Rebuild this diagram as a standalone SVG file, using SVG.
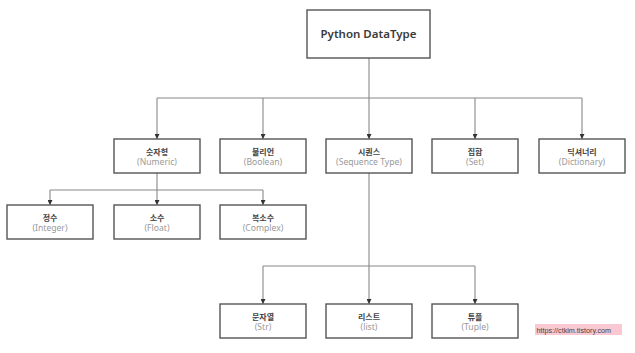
<svg xmlns="http://www.w3.org/2000/svg" width="635" height="353" viewBox="0 0 635 353">
<defs>
<style>
.box{fill:#fff;stroke:#555;stroke-width:1.4}
.ko{font-family:"Noto Sans CJK KR","Noto Sans",sans-serif;font-size:8px;font-weight:700;fill:#444;text-anchor:middle}
.en{font-family:"Noto Sans","Noto Sans CJK KR",sans-serif;font-size:8.6px;fill:#999;text-anchor:middle}
.title{font-family:"Noto Sans","Noto Sans CJK KR",sans-serif;font-size:11.5px;font-weight:600;fill:#3a3a3a;text-anchor:middle}
.conn{fill:none;stroke:#888;stroke-width:1.1}
.wm{font-family:"Liberation Sans",sans-serif;font-size:7.2px;fill:#444}
</style>
<marker id="arr" viewBox="0 0 6 6" refX="6" refY="3" markerWidth="5" markerHeight="5" orient="auto" markerUnits="userSpaceOnUse">
<path d="M0,0 L6,3 L0,6 z" fill="#333"/>
</marker>
</defs>
<rect width="635" height="353" fill="#fff"/>
<g id="connectors">
<path class="conn" d="M369,58 V98"/>
<path class="conn" d="M157,98 H582"/>
<path class="conn" d="M157,98 V139" marker-end="url(#arr)"/>
<path class="conn" d="M263,98 V139" marker-end="url(#arr)"/>
<path class="conn" d="M369,98 V139" marker-end="url(#arr)"/>
<path class="conn" d="M475,98 V139" marker-end="url(#arr)"/>
<path class="conn" d="M582,98 V139" marker-end="url(#arr)"/>
<path class="conn" d="M157,173 V205" marker-end="url(#arr)"/>
<path class="conn" d="M50,190 H263"/>
<path class="conn" d="M50,190 V205" marker-end="url(#arr)"/>
<path class="conn" d="M263,190 V205" marker-end="url(#arr)"/>
<path class="conn" d="M369,173 V304" marker-end="url(#arr)"/>
<path class="conn" d="M263,266 H475"/>
<path class="conn" d="M263,266 V304" marker-end="url(#arr)"/>
<path class="conn" d="M475,266 V304" marker-end="url(#arr)"/>
</g>
<g id="root">
<rect class="box" x="307" y="10" width="123" height="48"/>
<text class="title" x="368.5" y="38">Python DataType</text>
</g>
<g id="numeric">
<rect class="box" x="114" y="139" width="86" height="34"/>
<text class="ko" x="157" y="155">숫자형</text>
<text class="en" x="157" y="165">(Numeric)</text>
</g>
<g id="boolean">
<rect class="box" x="220" y="139" width="86" height="34"/>
<text class="ko" x="263" y="155">불리언</text>
<text class="en" x="263" y="165">(Boolean)</text>
</g>
<g id="sequence">
<rect class="box" x="326" y="139" width="86" height="34"/>
<text class="ko" x="369" y="155">시퀀스</text>
<text class="en" x="369" y="165">(Sequence Type)</text>
</g>
<g id="set">
<rect class="box" x="432" y="139" width="86" height="34"/>
<text class="ko" x="475" y="155">집합</text>
<text class="en" x="475" y="165">(Set)</text>
</g>
<g id="dictionary">
<rect class="box" x="539" y="139" width="86" height="34"/>
<text class="ko" x="582" y="155">딕셔너리</text>
<text class="en" x="582" y="165">(Dictionary)</text>
</g>
<g id="integer">
<rect class="box" x="7" y="205" width="86" height="34"/>
<text class="ko" x="50" y="221">정수</text>
<text class="en" x="50" y="231">(Integer)</text>
</g>
<g id="float">
<rect class="box" x="114" y="205" width="86" height="34"/>
<text class="ko" x="157" y="221">소수</text>
<text class="en" x="157" y="231">(Float)</text>
</g>
<g id="complex">
<rect class="box" x="220" y="205" width="86" height="34"/>
<text class="ko" x="263" y="221">복소수</text>
<text class="en" x="263" y="231">(Complex)</text>
</g>
<g id="str">
<rect class="box" x="220" y="304" width="86" height="34"/>
<text class="ko" x="263" y="320">문자열</text>
<text class="en" x="263" y="330">(Str)</text>
</g>
<g id="list">
<rect class="box" x="326" y="304" width="86" height="34"/>
<text class="ko" x="369" y="320">리스트</text>
<text class="en" x="369" y="330">(list)</text>
</g>
<g id="tuple">
<rect class="box" x="432" y="304" width="86" height="34"/>
<text class="ko" x="475" y="320">튜플</text>
<text class="en" x="475" y="330">(Tuple)</text>
</g>
<g id="watermark">
<rect x="535" y="324" width="87" height="11" fill="#f9c8d2"/>
<text class="wm" x="536.5" y="332.5">https://ctkim.tistory.com</text>
</g>
</svg>
